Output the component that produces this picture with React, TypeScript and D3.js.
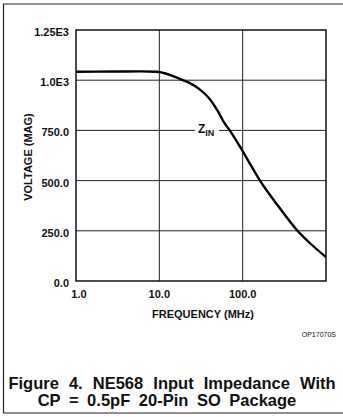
import * as d3 from "d3";

// Z_IN magnitude vs frequency
const freqMHz = [1, 3, 6, 9.3, 13.3, 17.5, 23, 30, 40, 50, 60, 69, 91, 120, 158, 274, 449, 625, 1000];
const zinMag = [1042, 1043, 1044, 1042, 1027, 1007, 987, 957, 908, 848, 789, 754, 675, 590, 506, 367, 253, 193, 119];

const yTicks = [0, 250, 500, 750, 1000, 1250];
const yTickLabels = ["0.0", "250.0", "500.0", "750.0", "1.0E3", "1.25E3"];
const xTicks = [1, 10, 100];
const xTickLabels = ["1.0", "10.0", "100.0"];

const captionLines = ["Figure 4. NE568 Input Impedance With", "CP = 0.5pF 20-Pin SO Package"];

export default function App() {
  const width = 343;
  const height = 417;
  const plot = { left: 76, right: 326, top: 30, bottom: 281 };
  const font = '"Liberation Sans", Arial, Helvetica, sans-serif';

  const x = d3.scaleLog().domain([1, 1000]).range([plot.left, plot.right]);
  const y = d3.scaleLinear().domain([0, 1250]).range([plot.bottom, plot.top]);

  const line = d3
    .line<number>()
    .x((_, i) => x(freqMHz[i]))
    .y((d) => y(d))
    .curve(d3.curveMonotoneX);

  const gridX = [10, 100];
  const gridY = [250, 500, 750, 1000];

  // first caption line is justified to the full width, second one centred
  const captionStyle = [
    { cx: 172, y: 389, ws: 5.5 },
    { cx: 167, y: 406, ws: 4 },
  ];

  return (
    <svg
      width={width}
      height={height}
      style={{ position: "absolute", left: 0, top: 0, background: "white" }}
      fontFamily={font}
    >
      {/* frame round the figure */}
      <path d={`M343,4H3.5V413H343`} fill="none" stroke="#222" strokeWidth={1.2} />

      {/* grid */}
      {gridX.map((f) => (
        <line key={f} x1={x(f)} x2={x(f)} y1={plot.top} y2={plot.bottom} stroke="#222" strokeWidth={1} />
      ))}
      {gridY.map((v) => (
        <line key={v} x1={plot.left} x2={plot.right} y1={y(v)} y2={y(v)} stroke="#222" strokeWidth={1} />
      ))}
      <rect
        x={plot.left}
        y={plot.top}
        width={plot.right - plot.left}
        height={plot.bottom - plot.top}
        fill="none"
        stroke="#111"
        strokeWidth={1.5}
      />

      {/* curve */}
      <path d={line(zinMag) ?? ""} fill="none" stroke="#000" strokeWidth={2.4} />

      {/* Z_IN label with white box over the grid */}
      <rect x={195} y={122} width={24} height={16} fill="white" />
      <text x={198} y={133} fontSize={12} fontWeight="bold" fill="#111">
        Z<tspan fontSize={9} dy={3}>IN</tspan>
      </text>

      {/* y ticks */}
      {yTicks.map((v, i) => (
        <text key={v} x={69} y={y(v) + 6} textAnchor="end" fontSize={11} fontWeight="bold" fill="#111">
          {yTickLabels[i]}
        </text>
      ))}
      {/* x ticks */}
      {xTicks.map((f, i) => (
        <text key={f} x={x(f) + (i === 0 ? 3 : 0)} y={298} textAnchor="middle" fontSize={11} fontWeight="bold" fill="#111">
          {xTickLabels[i]}
        </text>
      ))}

      <text
        transform={`translate(32,157) rotate(-90)`}
        textAnchor="middle"
        fontSize={11}
        fontWeight="bold"
        fill="#111"
      >
        VOLTAGE (MAG)
      </text>
      <text x={203} y={318} textAnchor="middle" fontSize={11} fontWeight="bold" fill="#111">
        FREQUENCY (MHz)
      </text>
      <text x={336} y={337} textAnchor="end" fontSize={7} fill="#111">
        OP17070S
      </text>

      {captionLines.map((t, i) => (
        <text
          key={i}
          x={captionStyle[i].cx}
          y={captionStyle[i].y}
          textAnchor="middle"
          fontSize={16.5}
          fontWeight="bold"
          fill="#111"
          style={{ wordSpacing: `${captionStyle[i].ws}px` }}
        >
          {t}
        </text>
      ))}
    </svg>
  );
}
